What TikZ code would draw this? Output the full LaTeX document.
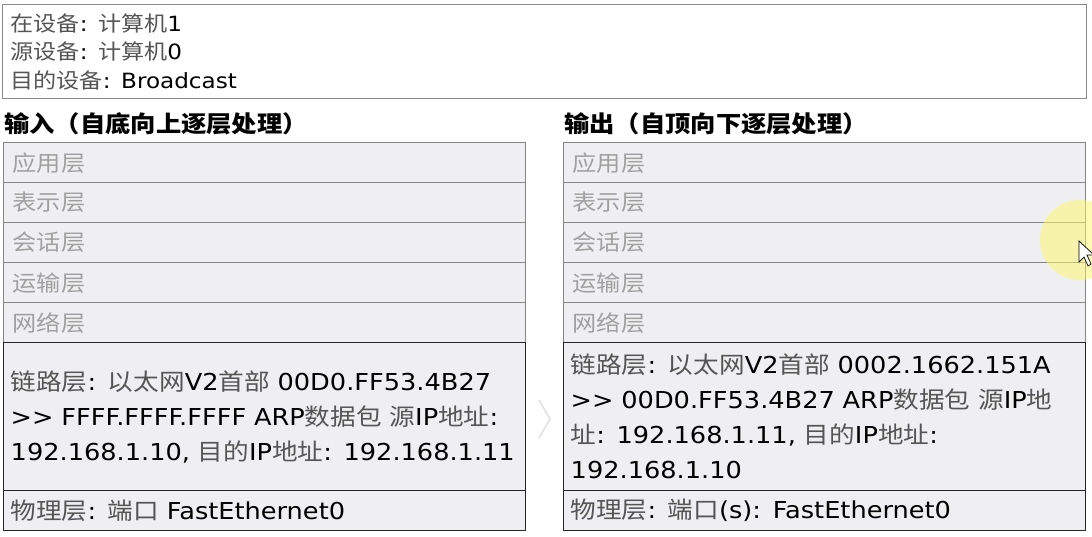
\documentclass[tikz,border=0pt]{standalone}
\usepackage{fontspec}
\setmainfont{DejaVu Sans}[Ligatures=TeXOff, FakeStretch=1.1]
\newfontfamily\zhfont{Noto Sans CJK SC}[FakeStretch=1.1]
\definecolor{rowfill}{HTML}{EFEFF1}
\definecolor{rowline}{HTML}{858585}
\definecolor{rowtext}{HTML}{A0A0A0}
\definecolor{boxline}{HTML}{262626}
\definecolor{zhtext}{HTML}{555555}
\definecolor{infoline}{HTML}{8A8A8A}
\newcommand\zh[1]{{\zhfont\color{zhtext}#1}}
\tikzset{
  layer/.style={draw=rowline, line width=1.4pt, fill=rowfill, anchor=north west,
    minimum height=40pt, text width=504pt, inner xsep=9pt, inner ysep=0pt,
    align=left, text=rowtext, font=\zhfont\fontsize{22}{25}\selectfont},
  active/.style={layer, draw=boxline, text=black, text width=508pt, inner xsep=7pt,
    font=\fontsize{23.3}{35}\selectfont},
  heading/.style={anchor=west, inner sep=0pt, font=\zhfont\bfseries\fontsize{23}{27}\selectfont},
  info/.style={draw=infoline, line width=1pt, fill=white, anchor=north west,
    minimum height=94pt, text width=1068pt, inner xsep=8pt, inner ysep=0pt,
    align=left, font=\fontsize{21}{28.5}\selectfont}
}
\begin{document}
\begin{tikzpicture}[x=1pt, y=-1pt]
  \fill[white] (0,0) rectangle (1092,536);
  \useasboundingbox (0,0) rectangle (1092,536);
  \node[info] (device) at (2,4) {\zh{在设备}: \zh{计算机}1\\
    \zh{源设备}: \zh{计算机}0\\
    \zh{目的设备}: Broadcast};
  \node[heading] (inhead) at (4,124) {输入（自底向上逐层处理）};
  \node[heading] (outhead) at (564,124) {输出（自顶向下逐层处理）};
  \foreach \name [count=\i] in {应用层,表示层,会话层,运输层,网络层} {
    \node[layer] (in\i) at (3,{142+40*(\i-1)}) {\name};
    \node[layer] (out\i) at (563,{142+40*(\i-1)}) {\name};
  }
  \node[active, minimum height=148pt] (inlink) at (3,342) {\zh{链路层}: \zh{以太网}V2\zh{首部} 00D0.FF53.4B27\\
    >> FFFF.FFFF.FFFF ARP\zh{数据包} \zh{源}IP\zh{地址}:\\
    192.168.1.10, \zh{目的}IP\zh{地址}: 192.168.1.11};
  \node[active, minimum height=148pt] (outlink) at (563,342) {\zh{链路层}: \zh{以太网}V2\zh{首部} 0002.1662.151A\\
    >> 00D0.FF53.4B27 ARP\zh{数据包} \zh{源}IP\zh{地}\\
    \zh{址}: 192.168.1.11, \zh{目的}IP\zh{地址}:\\
    192.168.1.10};
  \node[active] (inphy) at (3,490) {\zh{物理层}: \zh{端口} FastEthernet0};
  \node[active] (outphy) at (563,490) {\zh{物理层}: \zh{端口}(s): FastEthernet0};
  % separator between the two columns
  \draw[black!12, line width=1.5pt] (539,400) -- (550,419) -- (539,438);
  % pointer
  \fill[yellow!60!white, opacity=.5] (1080,240) circle (40);
  \filldraw[fill=white, draw=black, line width=.7pt] (1079,241) -- (1079,262) -- (1084,257) -- (1088,266) -- (1091,264) -- (1087,255) -- (1094,255) -- cycle;
\end{tikzpicture}
\end{document}
